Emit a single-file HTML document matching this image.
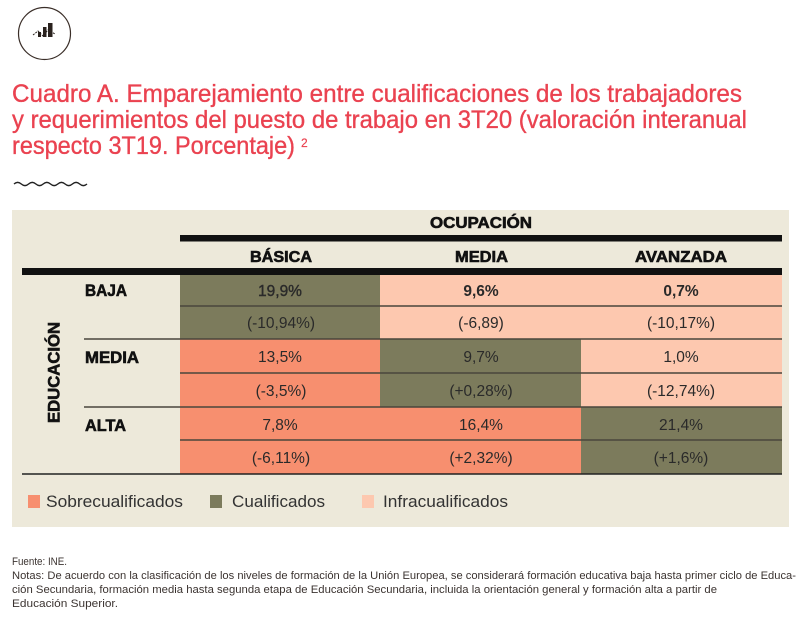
<!DOCTYPE html>
<html><head><meta charset="utf-8"><style>
html,body{margin:0;padding:0;background:#fff;}
svg{display:block;}
</style></head><body>
<svg width="800" height="617" viewBox="0 0 800 617" xmlns="http://www.w3.org/2000/svg">
<rect width="800" height="617" fill="#ffffff"/>
<!-- icon -->
<circle cx="44.5" cy="33.5" r="26" fill="none" stroke="#3a2e28" stroke-width="1.2"/>
<rect x="38" y="32" width="3" height="5" fill="#2a221e"/>
<rect x="43" y="27" width="3.5" height="10" fill="#2a221e"/>
<rect x="48" y="23" width="4.5" height="14" fill="#2a221e"/>
<polyline points="33,35 38,31 43,36 48,30 55,34" fill="none" stroke="#2a221e" stroke-width="1" stroke-dasharray="2,1"/>
<!-- title -->
<g font-family="Liberation Sans, sans-serif" font-size="25" fill="#EA4250" stroke="#EA4250" stroke-width="0.35">
<text x="12" y="102" textLength="730" lengthAdjust="spacingAndGlyphs">Cuadro A. Emparejamiento entre cualificaciones de los trabajadores</text>
<text x="12" y="128" textLength="735" lengthAdjust="spacingAndGlyphs">y requerimientos del puesto de trabajo en 3T20 (valoración interanual</text>
<text x="12" y="154" textLength="283" lengthAdjust="spacingAndGlyphs">respecto 3T19. Porcentaje)</text>
<text x="301" y="147" font-size="12" stroke-width="0.2">2</text>
</g>
<path d="M14 184 q3.65 -3.2 7.3 0 t7.3 0 t7.3 0 t7.3 0 t7.3 0 t7.3 0 t7.3 0 t7.3 0 t7.3 0 t7.3 0" fill="none" stroke="#222" stroke-width="1.4"/>
<!-- panel -->
<rect x="12" y="210" width="777" height="317" fill="#EDE9DA"/>
<!-- cells -->
<g>
<rect x="180" y="275" width="200" height="64" fill="#7C7B5C"/>
<rect x="380" y="275" width="201" height="64" fill="#FDC8AF"/>
<rect x="581" y="275" width="201" height="64" fill="#FDC8AF"/>
<rect x="180" y="339" width="200" height="68" fill="#F78F6F"/>
<rect x="380" y="339" width="201" height="68" fill="#7C7B5C"/>
<rect x="581" y="339" width="201" height="68" fill="#FDC8AF"/>
<rect x="180" y="407" width="200" height="67" fill="#F78F6F"/>
<rect x="380" y="407" width="201" height="67" fill="#F78F6F"/>
<rect x="581" y="407" width="201" height="67" fill="#7C7B5C"/>
</g>
<!-- lines -->
<rect x="180" y="235" width="602" height="6.5" fill="#111"/>
<rect x="22" y="268" width="760" height="7" fill="#111"/>
<g stroke="#4a463c" stroke-width="1.6">
<line x1="180" y1="306" x2="782" y2="306"/>
<line x1="180" y1="373" x2="782" y2="373"/>
<line x1="180" y1="440" x2="782" y2="440"/>
<line x1="84" y1="339" x2="782" y2="339"/>
<line x1="84" y1="407" x2="782" y2="407"/>
</g>
<line x1="22" y1="474" x2="782" y2="474" stroke="#222" stroke-width="1.5"/>
<!-- headers -->
<g font-family="Liberation Sans, sans-serif" font-weight="bold" font-size="15.5" fill="#111" stroke="#111" stroke-width="0.6" text-anchor="middle">
<text x="481" y="228" textLength="102" lengthAdjust="spacingAndGlyphs">OCUPACIÓN</text>
<text x="281" y="262" textLength="62" lengthAdjust="spacingAndGlyphs">BÁSICA</text>
<text x="481.5" y="262" textLength="53" lengthAdjust="spacingAndGlyphs">MEDIA</text>
<text x="681" y="262" textLength="92" lengthAdjust="spacingAndGlyphs">AVANZADA</text>
</g>
<g font-family="Liberation Sans, sans-serif" font-weight="bold" font-size="16.5" fill="#111" stroke="#111" stroke-width="0.6">
<text x="85" y="296" textLength="42" lengthAdjust="spacingAndGlyphs">BAJA</text>
<text x="85" y="363" textLength="54" lengthAdjust="spacingAndGlyphs">MEDIA</text>
<text x="85" y="431" textLength="41" lengthAdjust="spacingAndGlyphs">ALTA</text>
<text transform="translate(59.5,372.5) rotate(-90)" text-anchor="middle" textLength="101" lengthAdjust="spacingAndGlyphs">EDUCACIÓN</text>
</g>
<!-- values -->
<g font-family="Liberation Sans, sans-serif" font-size="15.5" fill="#2a2a2a" text-anchor="middle">
<text x="280" y="296" stroke="#2a2a2a" stroke-width="0.4">19,9%</text>
<text x="481" y="296" font-weight="bold">9,6%</text>
<text x="681" y="296" font-weight="bold">0,7%</text>
<text x="281" y="328">(-10,94%)</text>
<text x="481" y="328">(-6,89)</text>
<text x="681" y="328">(-10,17%)</text>
<text x="280" y="362">13,5%</text>
<text x="481" y="362">9,7%</text>
<text x="681" y="362">1,0%</text>
<text x="281" y="396">(-3,5%)</text>
<text x="481" y="396">(+0,28%)</text>
<text x="681" y="396">(-12,74%)</text>
<text x="280" y="430">7,8%</text>
<text x="481" y="430">16,4%</text>
<text x="681" y="430">21,4%</text>
<text x="281" y="463">(-6,11%)</text>
<text x="481" y="463">(+2,32%)</text>
<text x="681" y="463">(+1,6%)</text>
</g>
<!-- legend -->
<rect x="28" y="495" width="12" height="13" fill="#F78F6F"/>
<rect x="210" y="495" width="12" height="13" fill="#7C7B5C"/>
<rect x="362" y="495" width="12" height="13" fill="#FDC8AF"/>
<g font-family="Liberation Sans, sans-serif" font-size="17" fill="#333">
<text x="46" y="507" textLength="137" lengthAdjust="spacingAndGlyphs">Sobrecualificados</text>
<text x="232" y="507" textLength="93" lengthAdjust="spacingAndGlyphs">Cualificados</text>
<text x="383" y="507" textLength="125" lengthAdjust="spacingAndGlyphs">Infracualificados</text>
</g>
<!-- notes -->
<g font-family="Liberation Sans, sans-serif" font-size="11" fill="#3b3330">
<text x="12" y="565" textLength="55" lengthAdjust="spacingAndGlyphs">Fuente: INE.</text>
<text x="12" y="579" textLength="784" lengthAdjust="spacingAndGlyphs">Notas: De acuerdo con la clasificación de los niveles de formación de la Unión Europea, se considerará formación educativa baja hasta primer ciclo de Educa-</text>
<text x="12" y="593" textLength="705" lengthAdjust="spacingAndGlyphs">ción Secundaria, formación media hasta segunda etapa de Educación Secundaria, incluida la orientación general y formación alta a partir de</text>
<text x="12" y="607" textLength="106" lengthAdjust="spacingAndGlyphs">Educación Superior.</text>
</g>
</svg>
</body></html>
